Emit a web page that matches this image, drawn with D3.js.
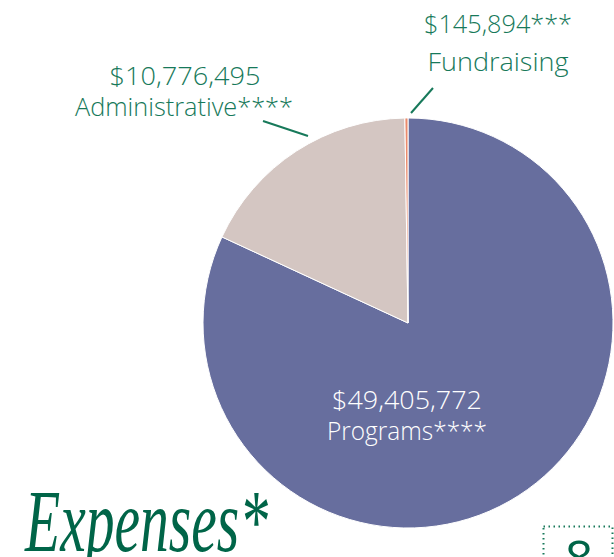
<!DOCTYPE html>
<html><head><meta charset="utf-8">
<script src="https://cdn.jsdelivr.net/npm/d3@7"></script>
<style>body{margin:0;background:#fff;} svg{display:block;}</style>
</head><body>
<script>
const categories = ["Programs", "Administrative", "Fundraising"];
const values = [49405772, 10776495, 145894];
const valueLabels = ["$49,405,772", "$10,776,495", "$145,894***"];
const nameLabels = ["Programs****", "Administrative****", "Fundraising"];
const colors = ["#676e9e", "#d4c6c2", "#ea8b6d"];

const W = 614, H = 557;
const svg = d3.select("body").append("svg").attr("width", W).attr("height", H);
const cx = 408, cy = 323, R = 205;
const green = "#17795a";

const pie = d3.pie().sort(null).value(d => d)(values);
const arc = d3.arc().innerRadius(0).outerRadius(R);
const g = svg.append("g").attr("transform", `translate(${cx},${cy})`);
g.selectAll("path").data(pie).join("path")
  .attr("d", arc).attr("fill", (d, i) => colors[i])
  .attr("stroke", "#fff").attr("stroke-width", 1);

const font = "'Open Sans', sans-serif";
function label(x, y, txt, fill, len) {
  svg.append("text").attr("x", x).attr("y", y).attr("text-anchor", "middle")
    .attr("font-family", font).attr("font-weight", 350).attr("font-size", 26)
    .attr("fill", fill).attr("textLength", len).attr("lengthAdjust", "spacingAndGlyphs")
    .text(txt);
}
// Programs label inside
label(407, 409, valueLabels[0], "#fff", 150);
label(407, 440, nameLabels[0], "#fff", 160);

// Administrative label
label(185, 85, valueLabels[1], green, 151);
label(184, 116, nameLabels[1], green, 218);
svg.append("line").attr("x1", 263).attr("y1", 121).attr("x2", 308).attr("y2", 136)
  .attr("stroke", green).attr("stroke-width", 2);

// Fundraising label
label(498, 33, valueLabels[2], green, 148);
label(498, 71, nameLabels[2], green, 141);
svg.append("line").attr("x1", 433).attr("y1", 88).attr("x2", 411).attr("y2", 113)
  .attr("stroke", green).attr("stroke-width", 2);

// Title
svg.append("text").attr("x", 25).attr("y", 551)
  .attr("font-family", "'Liberation Serif', serif").attr("font-style", "italic")
  .attr("font-size", 88).attr("fill", "#006548")
  .attr("textLength", 243).attr("lengthAdjust", "spacingAndGlyphs").text("Expenses*");

// Page number box
svg.append("rect").attr("x", 543.5).attr("y", 526.5).attr("width", 69).attr("height", 60)
  .attr("fill", "none").attr("stroke", green).attr("stroke-width", 2)
  .attr("stroke-dasharray", "1.5,3.5");
svg.append("text").attr("x", 579).attr("y", 576).attr("text-anchor", "middle")
  .attr("font-family", font).attr("font-size", 50).attr("fill", "#006548").text("8");
</script>
</body></html>
